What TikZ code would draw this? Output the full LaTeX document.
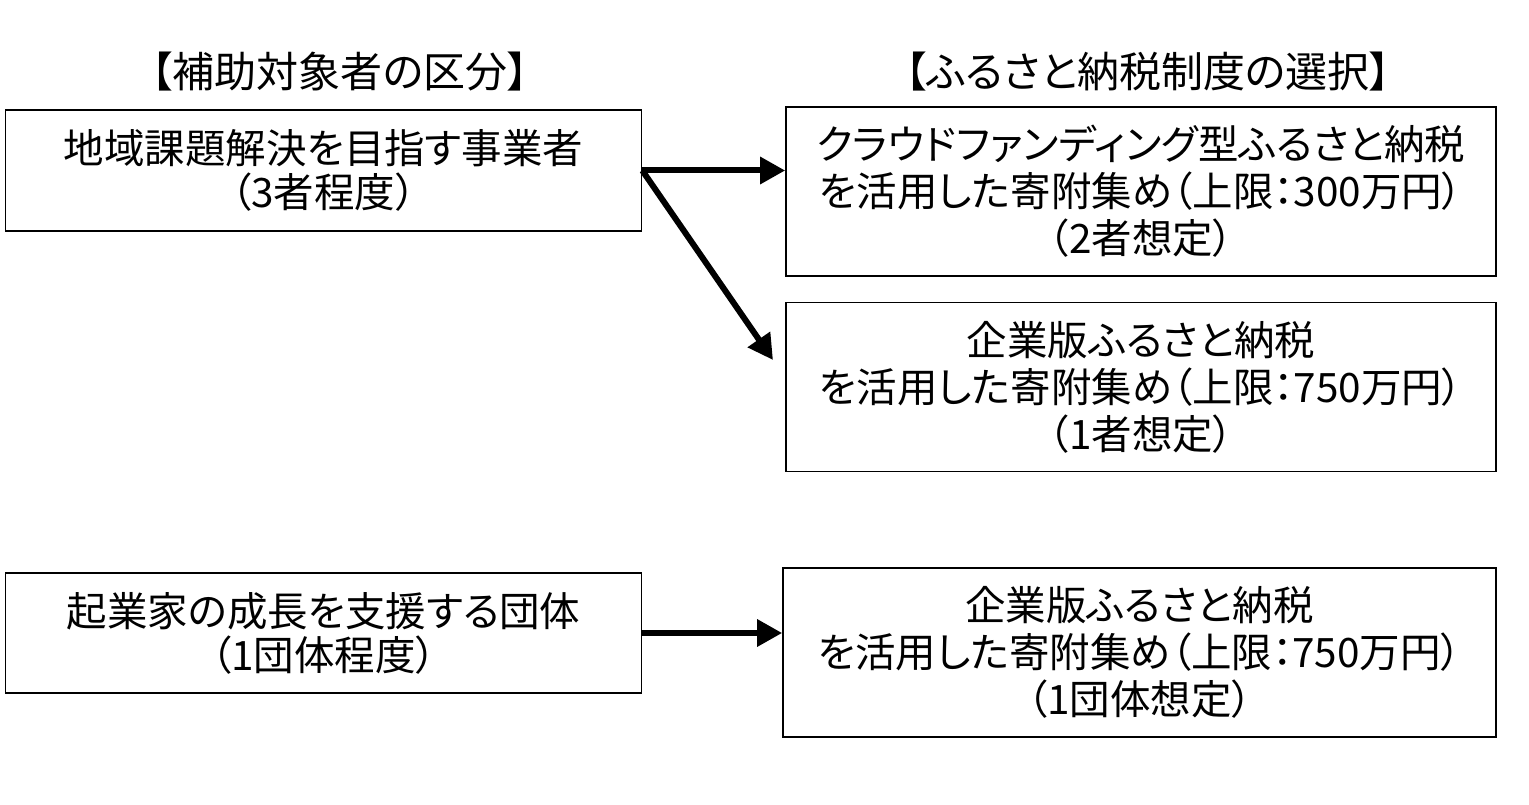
\documentclass[tikz,border=0pt]{standalone}
\usepackage{fontspec}
\newfontfamily\jp{Noto Sans CJK JP}[RawFeature=+palt]
\usetikzlibrary{arrows.meta}
\begin{document}
\begin{tikzpicture}[x=1pt,y=-1pt,
  box/.style={draw=black,line width=1.6pt,inner sep=0pt,align=center,
    font=\jp\fontsize{40.5}{47}\selectfont},
  lbox/.style={box,font=\jp\fontsize{40.5}{44}\selectfont},
  head/.style={inner sep=0pt,font=\jp\fontsize{42}{46}\selectfont},
  arr/.style={line width=6pt,-{Triangle[length=25pt,width=26pt]}}]
\useasboundingbox (0,0) rectangle (1529,805);
\node[head] (h1) at (340,72) {【補助対象者の区分】};
\node[head] (h2) at (1148,72) {【ふるさと納税制度の選択】};
\node[lbox,minimum width=636pt,minimum height=121pt] (a) at (323.5,170.5)
  {地域課題解決を目指す事業者\\（3者程度）};
\node[box,minimum width=710pt,minimum height=169pt] (b) at (1141,191.5)
  {クラウドファンディング型ふるさと納税\\を活用した寄附集め（上限：300万円）\\（2者想定）};
\node[box,minimum width=710pt,minimum height=169pt] (c) at (1141,387)
  {企業版ふるさと納税\\を活用した寄附集め（上限：750万円）\\（1者想定）};
\node[lbox,minimum width=636pt,minimum height=120pt] (d) at (323.5,633)
  {起業家の成長を支援する団体\\（1団体程度）};
\node[box,minimum width=713pt,minimum height=169pt] (e) at (1139.5,652.5)
  {企業版ふるさと納税\\を活用した寄附集め（上限：750万円）\\（1団体想定）};
\coordinate (t2) at (773,360);
\draw[arr] (a.east) -- (a.east -| b.west);
\draw[arr] (a.east) -- (t2);
\draw[arr] (d.east) -- (d.east -| e.west);
\end{tikzpicture}
\end{document}
